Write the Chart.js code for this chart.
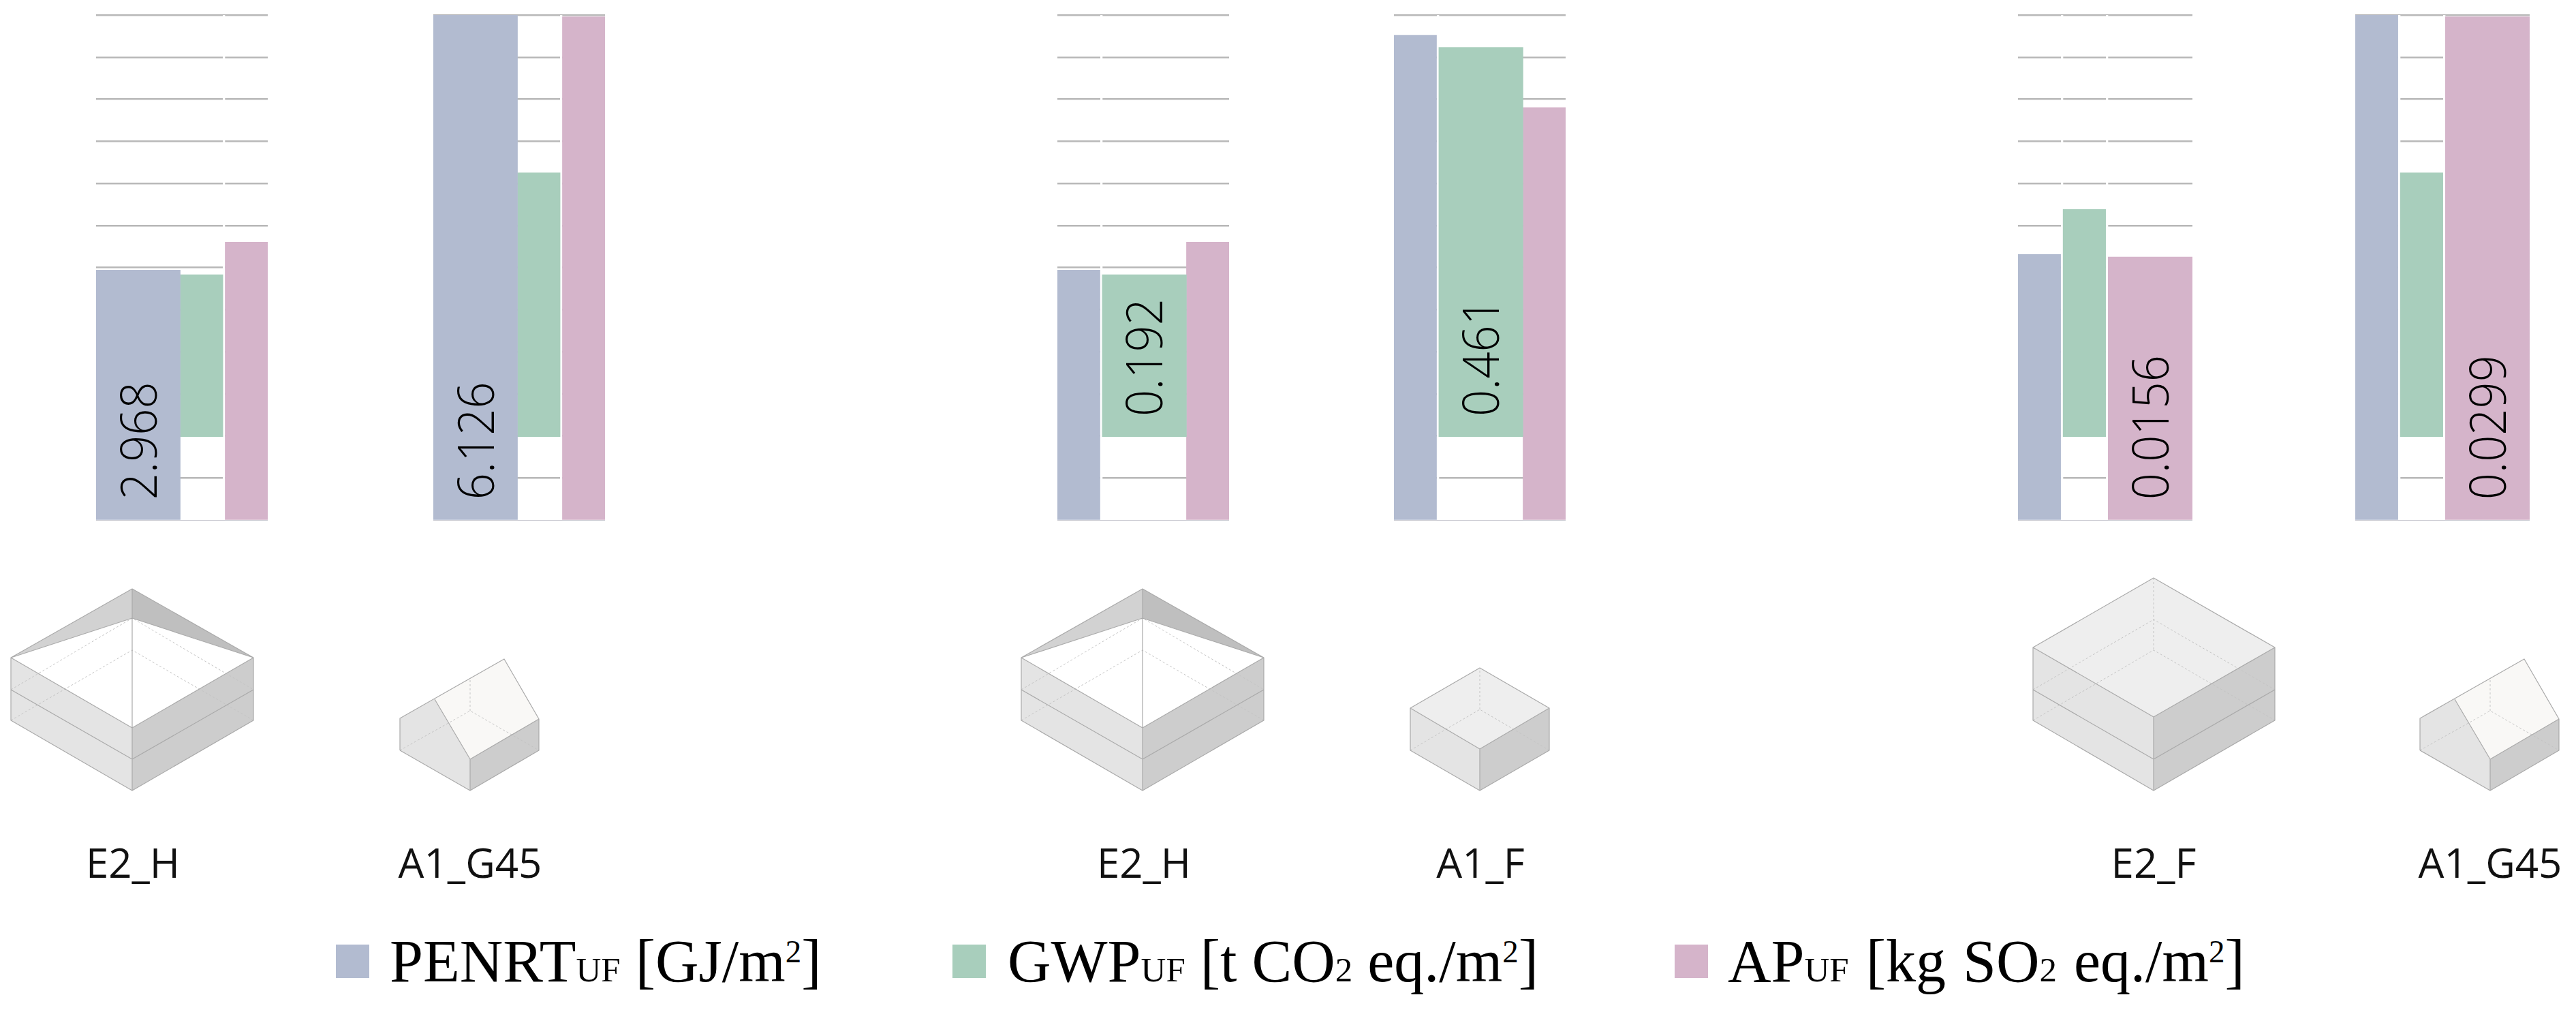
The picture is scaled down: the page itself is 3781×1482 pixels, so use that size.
<!DOCTYPE html>
<html>
<head>
<meta charset="utf-8">
<title>PENRT, GWP and AP by building type</title>
<script src="https://cdn.jsdelivr.net/npm/chart.js@4"></script>
<style>
    html, body { margin: 0; background: #fff; }
    #page { position: relative; width: 3781px; height: 1482px; overflow: hidden; }
    #page canvas { position: absolute; top: 0; }
    #houses { position: absolute; left: 0; top: 0; }
    .name { position: absolute; top: 1235px; transform: translateX(-50%); font: 400 60px/1 "Open Sans", sans-serif; color: #111; white-space: nowrap; }
    .swatch { position: absolute; top: 1386px; width: 49px; height: 49px; }
    .key { position: absolute; top: 1367px; font: 88px/1 "Liberation Serif", serif; color: #000; white-space: nowrap; }
    .key small { font-size: 51px; }
    .key sup { font-size: 47px; line-height: 0; vertical-align: 28px; }
</style>
</head>
<body>
<div id="page">
<svg id="houses" width="3781" height="1482" fill="none" stroke-linejoin="round">
    <defs>
        <!-- origin of each drawing is its lowest front corner -->
        <g id="hip">
            <path fill="#e4e4e4" d="M-178-195L0-92V0L-178-103Z"/>
            <path fill="#cdcdcd" d="M178-195L0-92V0L178-103Z"/>
            <path fill="#d2d2d2" d="M0-296L-178-195L0-253Z"/>
            <path fill="#bfbfbf" d="M0-296L178-195L0-253Z"/>
            <path fill="#fff" d="M0-253L-178-195L0-92L178-195Z"/>
            <path stroke="#c4c4c4" stroke-dasharray="3 3" d="M-178-148L0-253L178-148M-178-103L0-206L178-103"/>
            <path stroke="#aaa" stroke-width="1.2" d="M0-296L-178-195L0-92L178-195ZM-178-195L0-253L178-195M0-296V0M-178-195V-103L0 0L178-103V-195M-178-148L0-46L178-148"/>
        </g>
        <g id="gable">
            <path fill="#e4e4e4" d="M-103-59V-106L-52-134L0-46V0Z"/>
            <path fill="#cdcdcd" d="M101-105V-59L0 0V-46Z"/>
            <path fill="#f9f8f6" d="M-52-134L50-193L101-105L0-46Z"/>
            <path stroke="#c4c4c4" stroke-dasharray="3 3" d="M-103-59L0-117L101-59M0-117V-164"/>
            <path stroke="#aaa" stroke-width="1.2" d="M-103-59V-106L50-193L101-105L0-46L-52-134M101-105V-59L0 0L-103-59M0-46V0"/>
        </g>
        <g id="flat">
            <path fill="#e4e4e4" d="M-102-121L0-61V0L-102-59Z"/>
            <path fill="#cdcdcd" d="M102-121L0-61V0L102-59Z"/>
            <path fill="#eee" d="M0-180L-102-121L0-61L102-121Z"/>
            <path stroke="#c4c4c4" stroke-dasharray="3 3" d="M-102-59L0-119L102-59M0-119V-180"/>
            <path stroke="#aaa" stroke-width="1.2" d="M0-180L-102-121L0-61L102-121ZM-102-121V-59L0 0L102-59V-121M0-61V0"/>
        </g>
        <g id="flat2">
            <path fill="#e4e4e4" d="M-177-210L0-108V0L-177-103Z"/>
            <path fill="#cdcdcd" d="M178-210L0-108V0L178-103Z"/>
            <path fill="#eee" d="M0-312L-177-210L0-108L178-210Z"/>
            <path stroke="#c4c4c4" stroke-dasharray="3 3" d="M-177-148L0-251L178-148M-177-103L0-206L178-103M0-312V-206"/>
            <path stroke="#aaa" stroke-width="1.2" d="M0-312L-177-210L0-108L178-210ZM-177-210V-103L0 0L178-103V-210M-177-148L0-46L178-148M0-108V0"/>
        </g>
    </defs>
    <use href="#hip" x="194" y="1160"/>
    <use href="#gable" x="690" y="1160"/>
    <use href="#hip" x="1677" y="1160"/>
    <use href="#flat" x="2172" y="1160"/>
    <use href="#flat2" x="3161" y="1160"/>
    <use href="#gable" x="3655" y="1160"/>
</svg>
</div>

<script>
// Values, in gridline units (the picture has no y tick labels)
const categories = ['E2_H', 'A1_G45', 'E2_H', 'A1_F', 'E2_F', 'A1_G45'];
const penrt = [5.94, 12, 5.94, 11.52, 6.31, 12];
const gwpBase = [1.98, 1.98, 1.98, 1.98, 1.98, 1.98];
const gwpTop = [5.83, 8.25, 5.83, 11.23, 7.38, 8.25];
const ap = [6.6, 11.96, 6.6, 9.8, 6.25, 11.96];
const valueLabels = ['2.968', '6.126', '0.192', '0.461', '0.0156', '0.0299'];
const labelledSeries = [0, 0, 1, 1, 2, 2];
const gridTicks = [0, 1, 2, 3, 4, 5, 6, 7, 8, 9, 10, 11, 12];

const colors = ['#b2bbd0', '#a8cebc', '#d5b4ca'];
const seriesNames = ['PENRT', 'GWP', 'AP'];

// Layout of the page
const groupLeft = [140.6, 636, 1552, 2046.4, 2961.8, 3456.7];
const nameCenter = [195, 690, 1679, 2173, 3161, 3655];
const narrowBar = 62.5;
const wideBar = 123.5;
const barGap = 3.3;
const canvasHeight = 775;

const page = document.getElementById('page');

// Writes the value up the labelled bar
const valueLabelPlugin = {
    id: 'valueLabel',
    afterDatasetsDraw(chart, args, opts) {
        const bar = chart.getDatasetMeta(opts.series).data[0];
        const y = chart.scales.y.getPixelForValue(opts.base + 0.48);
        const ctx = chart.ctx;
        ctx.save();
        ctx.translate(bar.x + 6, y);
        ctx.rotate(-Math.PI / 2);
        ctx.scale(0.94, 1);
        ctx.font = '300 73px "Open Sans", sans-serif';
        ctx.fillStyle = '#000';
        ctx.textAlign = 'left';
        ctx.textBaseline = 'middle';
        ctx.fillText(opts.text, 0, 0);
        ctx.restore();
    }
};

categories.forEach((name, i) => {
    const wide = labelledSeries[i];
    const widths = [0, 1, 2].map(s => (s === wide ? wideBar : narrowBar));

    // A narrow bar leaves a small gap after it, the wide one does not
    let x = 0;
    const centers = [];
    const gaps = [];
    widths.forEach((w, s) => {
        centers.push(x + w / 2);
        x += w;
        if (s < 2 && s !== wide) {
            gaps.push(x + barGap / 2);
            x += barGap;
        }
    });
    const total = x;

    const values = [penrt[i], [gwpBase[i], gwpTop[i]], ap[i]];
    const canvas = document.createElement('canvas');
    canvas.width = Math.ceil(total);
    canvas.height = canvasHeight;
    canvas.style.left = groupLeft[i] + 'px';
    page.appendChild(canvas);

    new Chart(canvas, {
        type: 'bar',
        data: {
            datasets: values.map((v, s) => ({
                label: seriesNames[s],
                data: [{ x: centers[s], y: v }],
                backgroundColor: colors[s],
                barThickness: widths[s],
                barPercentage: 1,
                grouped: false
            }))
        },
        options: {
            responsive: false,
            animation: false,
            layout: { padding: { top: 22, bottom: 12, left: 0, right: 0 } },
            plugins: {
                legend: { display: false },
                tooltip: { enabled: false },
                valueLabel: {
                    series: wide,
                    base: wide === 1 ? gwpBase[i] : 0,
                    text: valueLabels[i]
                }
            },
            scales: {
                x: {
                    type: 'linear',
                    offset: false,
                    min: 0,
                    max: total,
                    // white lines break the gridlines where the bars have a gap
                    afterBuildTicks: scale => { scale.ticks = gaps.map(g => ({ value: g })); },
                    ticks: { display: false },
                    border: { display: false },
                    grid: { z: 0, offset: false, color: '#fff', lineWidth: barGap, drawTicks: false }
                },
                y: {
                    min: 0,
                    max: 12,
                    afterBuildTicks: scale => { scale.ticks = gridTicks.map(t => ({ value: t })); },
                    ticks: { display: false },
                    border: { display: false },
                    grid: {
                        z: -1,
                        drawTicks: false,
                        color: ctx => (ctx.tick.value === 0 ? '#c8c8d0' : '#b8b8b8'),
                        lineWidth: ctx => (ctx.tick.value === 0 ? 1 : 2.5)
                    }
                }
            }
        },
        plugins: [valueLabelPlugin]
    });

    const label = document.createElement('div');
    label.className = 'name';
    label.style.left = nameCenter[i] + 'px';
    label.textContent = name;
    page.appendChild(label);
});

// Legend, with the small UF and the sub and superscripts of the original
const legendItems = [
    { swatch: 493, text: 572, spacing: 0, html: 'PENRT<small>UF</small> [GJ/m<sup>2</sup>]' },
    { swatch: 1398, text: 1479, spacing: 0, html: 'GWP<small>UF</small> [t CO<small>2</small> eq./m<sup>2</sup>]' },
    { swatch: 2458, text: 2536, spacing: 3, html: 'AP<small>UF</small> [kg SO<small>2</small> eq./m<sup>2</sup>]' }
];
legendItems.forEach((item, s) => {
    const swatch = document.createElement('div');
    swatch.className = 'swatch';
    swatch.style.left = item.swatch + 'px';
    swatch.style.background = colors[s];
    page.appendChild(swatch);

    const key = document.createElement('div');
    key.className = 'key';
    key.style.left = item.text + 'px';
    key.style.wordSpacing = item.spacing + 'px';
    key.innerHTML = item.html;
    page.appendChild(key);
});
</script>
</body>
</html>
